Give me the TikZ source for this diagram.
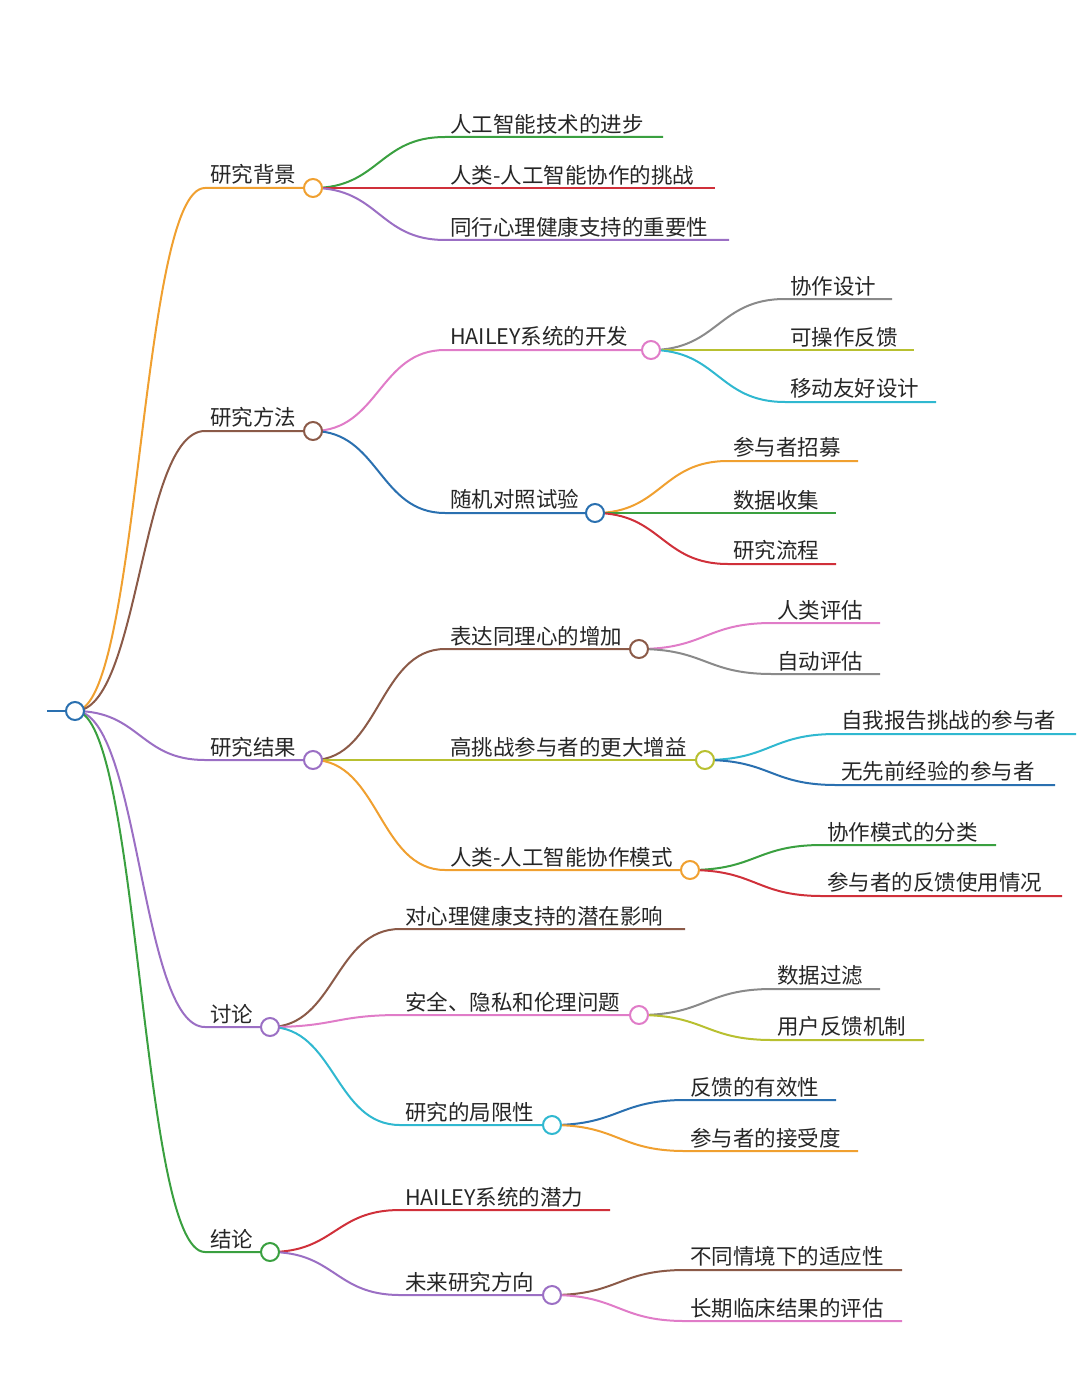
\documentclass[tikz,border=0pt]{standalone}
\usepackage{fontspec}
\setmainfont{Noto Sans CJK SC}
\usetikzlibrary{calc}
\definecolor{cOr}{HTML}{F0A030}
\definecolor{cBr}{HTML}{8B5A48}
\definecolor{cPu}{HTML}{9B6FC4}
\definecolor{cGr}{HTML}{3AA040}
\definecolor{cRe}{HTML}{D0303A}
\definecolor{cPi}{HTML}{E07CC8}
\definecolor{cGy}{HTML}{8A8A8A}
\definecolor{cOl}{HTML}{B8C030}
\definecolor{cCy}{HTML}{30B8D0}
\definecolor{cBl}{HTML}{2A70B0}
\tikzset{
  ln/.style={line width=2pt},
  dot/.style={circle,draw,fill=white,line width=2pt,minimum size=18pt,inner sep=0pt},
  lbl/.style={anchor=south west,font=\fontsize{21.5}{24}\selectfont,inner sep=2pt,text=black!85}
}
% #1 parent coord, #2 start x, #3 y, #4 end x, #5 color, #6 text, #7 name
\newcommand{\mmbranch}[7]{%
  \coordinate (#7s) at (#2,#3);
  \coordinate (#7e) at (#4,#3);
  \draw[ln,#5] let \p1=(#1), \p2=(#7s), \n1={(\x2-\x1)/2} in
    (\p1) .. controls +(\n1,0) and +(-\n1,0) .. (\p2) -- (#7e);
  \node[lbl] (#7t) at ([xshift=3pt,yshift=1pt]#7s) {#6};
}
\newcommand{\mmdot}[3]{\node[dot,draw=#2] (#3d) at (#1) {};}
\begin{document}
\begin{tikzpicture}[x=1pt,y=-1pt]
\useasboundingbox (0,0) rectangle (1080,1388);
\coordinate (R) at (75,711);
\coordinate (R0) at (47,711);
\draw[ln,cBl] (R0) -- (R);
% level 1
\mmbranch{R}{205}{188}{313}{cOr}{研究背景}{A}
\mmbranch{R}{205}{431}{313}{cBr}{研究方法}{B}
\mmbranch{R}{205}{760}{313}{cPu}{研究结果}{C}
\mmbranch{R}{205}{1027}{270}{cPu}{讨论}{D}
\mmbranch{R}{205}{1252}{270}{cGr}{结论}{E}
% A
\mmbranch{Ae}{445}{137}{663}{cGr}{人工智能技术的进步}{A1}
\mmbranch{Ae}{445}{188}{715}{cRe}{人类-人工智能协作的挑战}{A2}
\mmbranch{Ae}{445}{240}{729}{cPu}{同行心理健康支持的重要性}{A3}
% B
\mmbranch{Be}{445}{350}{651}{cPi}{HAILEY系统的开发}{B1}
\mmbranch{B1e}{785}{299}{892}{cGy}{协作设计}{B11}
\mmbranch{B1e}{785}{350}{914}{cOl}{可操作反馈}{B12}
\mmbranch{B1e}{785}{402}{936}{cCy}{移动友好设计}{B13}
\mmbranch{Be}{445}{513}{595}{cBl}{随机对照试验}{B2}
\mmbranch{B2e}{728}{461}{858}{cOr}{参与者招募}{B21}
\mmbranch{B2e}{728}{513}{836}{cGr}{数据收集}{B22}
\mmbranch{B2e}{728}{564}{836}{cRe}{研究流程}{B23}
% C
\mmbranch{Ce}{445}{649}{639}{cBr}{表达同理心的增加}{C1}
\mmbranch{C1e}{772}{623}{880}{cPi}{人类评估}{C11}
\mmbranch{C1e}{772}{674}{880}{cGy}{自动评估}{C12}
\mmbranch{Ce}{445}{760}{705}{cOl}{高挑战参与者的更大增益}{C2}
\mmbranch{C2e}{836}{734}{1076}{cCy}{自我报告挑战的参与者}{C21}
\mmbranch{C2e}{836}{785}{1055}{cBl}{无先前经验的参与者}{C22}
\mmbranch{Ce}{445}{870}{690}{cOr}{人类-人工智能协作模式}{C3}
\mmbranch{C3e}{822}{845}{996}{cGr}{协作模式的分类}{C31}
\mmbranch{C3e}{822}{896}{1062}{cRe}{参与者的反馈使用情况}{C32}
% D
\mmbranch{De}{400}{929}{685}{cBr}{对心理健康支持的潜在影响}{D1}
\mmbranch{De}{400}{1015}{639}{cPi}{安全、隐私和伦理问题}{D2}
\mmbranch{D2e}{772}{989}{880}{cGy}{数据过滤}{D21}
\mmbranch{D2e}{772}{1040}{924}{cOl}{用户反馈机制}{D22}
\mmbranch{De}{400}{1125}{552}{cCy}{研究的局限性}{D3}
\mmbranch{D3e}{685}{1100}{836}{cBl}{反馈的有效性}{D31}
\mmbranch{D3e}{685}{1151}{858}{cOr}{参与者的接受度}{D32}
% E
\mmbranch{Ee}{400}{1210}{610}{cRe}{HAILEY系统的潜力}{E1}
\mmbranch{Ee}{400}{1295}{552}{cPu}{未来研究方向}{E2}
\mmbranch{E2e}{685}{1270}{902}{cBr}{不同情境下的适应性}{E21}
\mmbranch{E2e}{685}{1321}{902}{cPi}{长期临床结果的评估}{E22}
% dots
\mmdot{R}{cBl}{R}
\mmdot{Ae}{cOr}{A}
\mmdot{Be}{cBr}{B}
\mmdot{Ce}{cPu}{C}
\mmdot{De}{cPu}{D}
\mmdot{Ee}{cGr}{E}
\mmdot{B1e}{cPi}{B1}
\mmdot{B2e}{cBl}{B2}
\mmdot{C1e}{cBr}{C1}
\mmdot{C2e}{cOl}{C2}
\mmdot{C3e}{cOr}{C3}
\mmdot{D2e}{cPi}{D2}
\mmdot{D3e}{cCy}{D3}
\mmdot{E2e}{cPu}{E2}
\end{tikzpicture}
\end{document}
